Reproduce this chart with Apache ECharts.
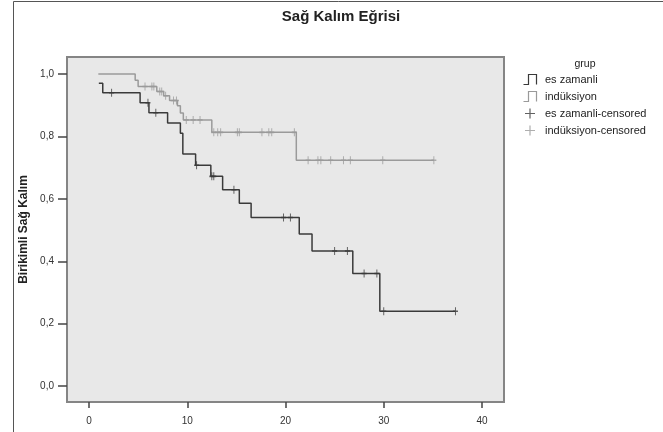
<!DOCTYPE html>
<html>
<head>
<meta charset="utf-8">
<script src="https://cdn.jsdelivr.net/npm/echarts@6.0.0/dist/echarts.min.js"></script>
<style>html,body{margin:0;padding:0;background:#fff;}#c{width:663px;height:432px;}</style>
</head>
<body>
<div id="c"></div>
<script>
// Kaplan-Meier step data (time, survival after event)
const darkTimes = [1.0, 1.4, 5.2, 6.1, 8.0, 9.3, 9.55, 10.85, 12.4, 13.6, 15.3, 16.5, 21.4, 22.7, 26.85, 29.6, 37.3];
const darkSurv  = [0.970, 0.940, 0.908, 0.876, 0.843, 0.810, 0.744, 0.708, 0.672, 0.629, 0.586, 0.540, 0.487, 0.433, 0.361, 0.240, 0.240];
const darkCens  = [2.3, 6.0, 6.8, 10.95, 12.5, 12.7, 14.75, 19.8, 20.5, 25.0, 26.3, 28.0, 29.3, 30.0, 37.3];

const grayTimes = [0.95, 4.7, 5.0, 6.9, 7.6, 8.2, 9.0, 9.3, 9.6, 12.5, 21.1, 35.1];
const graySurv  = [1.0, 0.980, 0.960, 0.944, 0.930, 0.915, 0.898, 0.875, 0.853, 0.813, 0.724, 0.724];
const grayCens  = [5.7, 6.4, 6.6, 7.2, 7.4, 7.8, 8.6, 8.9, 9.9, 10.6, 11.3, 12.7, 13.1, 13.4, 15.1, 15.3, 17.6, 18.3, 18.6, 20.9, 22.3, 23.3, 23.6, 24.6, 25.9, 26.6, 29.9, 35.1];

const xTicks = [0, 10, 20, 30, 40];
const yTicks = [0, 0.2, 0.4, 0.6, 0.8, 1.0];
const seriesNames = ['es zamanli', 'indüksiyon', 'es zamanli-censored', 'indüksiyon-censored'];

function levelAt(times, vals, t) {
  let v = vals[0];
  for (let i = 0; i < times.length; i++) { if (times[i] <= t) v = vals[i]; }
  return v;
}
const pairs = (ts, vs) => ts.map((t, i) => [t, vs[i]]);
const censPts = (cs, ts, vs) => cs.map(c => [c, levelAt(ts, vs, c)]);

const DARK = '#3a3a3a', GRAY = '#9a9a9a';
const stepIcon = 'path://M0,10L5,10L5,0L13,0L13,10';
const plusIcon = 'path://M0,5L10,5M5,0L5,10';
const FONT = 'Liberation Sans, Arial, sans-serif';

const chart = echarts.init(document.getElementById('c'), null, {renderer: 'canvas'});
chart.setOption({
  animation: false,
  backgroundColor: '#fff',
  title: [
    {text: 'Sağ Kalım Eğrisi', left: 336, top: 4, textAlign: 'center',
     textStyle: {fontFamily: FONT, fontSize: 15, fontWeight: 'bold', color: '#222'}},
    {text: 'grup', left: 580, top: 54, textAlign: 'center',
     textStyle: {fontFamily: FONT, fontSize: 10.5, fontWeight: 'normal', color: '#222'}}
  ],
  graphic: [
    {type: 'rect', shape: {x: 13.5, y: 1.5, width: 700, height: 500}, silent: true,
     style: {fill: 'none', stroke: '#555', lineWidth: 1}}
  ],
  legend: {
    orient: 'vertical', left: 516, top: 67, itemWidth: 20, itemHeight: 10, itemGap: 2,
    selectedMode: false,
    textStyle: {fontFamily: FONT, fontSize: 11, color: '#222'},
    data: [
      {name: seriesNames[0], icon: stepIcon, itemStyle: {color: 'none', borderColor: DARK, borderWidth: 1.2}},
      {name: seriesNames[1], icon: stepIcon, itemStyle: {color: 'none', borderColor: GRAY, borderWidth: 1.2}},
      {name: seriesNames[2], icon: plusIcon, itemStyle: {color: 'none', borderColor: DARK, borderWidth: 1.2}},
      {name: seriesNames[3], icon: plusIcon, itemStyle: {color: 'none', borderColor: GRAY, borderWidth: 1.2}}
    ]
  },
  grid: {left: 67, top: 57, width: 437, height: 345, show: true,
         backgroundColor: '#e8e8e8', borderColor: '#858585', borderWidth: 2},
  xAxis: {
    type: 'value', min: -2.24, max: 42.24,
    axisLine: {show: false, onZero: false}, splitLine: {show: false},
    axisTick: {show: true, customValues: xTicks, length: 6, lineStyle: {color: '#444', width: 1.5}},
    axisLabel: {customValues: xTicks, margin: 14, fontFamily: FONT, fontSize: 10, color: '#333',
                formatter: v => String(v)}
  },
  yAxis: {
    type: 'value', min: -0.051, max: 1.0545,
    name: 'Birikimli Sağ Kalım', nameLocation: 'middle', nameGap: 36, nameRotate: 90,
    nameTextStyle: {fontFamily: FONT, fontSize: 12, fontWeight: 'bold', color: '#222'},
    axisLine: {show: false, onZero: false}, splitLine: {show: false},
    axisTick: {show: true, customValues: yTicks, length: 9, lineStyle: {color: '#444', width: 1.5}},
    axisLabel: {customValues: yTicks, margin: 13, fontFamily: FONT, fontSize: 10, color: '#333',
                formatter: v => v.toFixed(1).replace('.', ',')}
  },
  series: [
    {name: seriesNames[0], type: 'line', step: 'end', data: pairs(darkTimes, darkSurv),
     symbol: 'none', lineStyle: {color: DARK, width: 1.5}, itemStyle: {color: DARK}, z: 4},
    {name: seriesNames[1], type: 'line', step: 'end', data: pairs(grayTimes, graySurv),
     symbol: 'none', lineStyle: {color: GRAY, width: 1.5}, itemStyle: {color: GRAY}, z: 3},
    {name: seriesNames[2], type: 'scatter', data: censPts(darkCens, darkTimes, darkSurv),
     symbol: plusIcon, symbolSize: [5, 8],
     itemStyle: {color: 'none', borderColor: DARK, borderWidth: 1.2}, z: 6},
    {name: seriesNames[3], type: 'scatter', data: censPts(grayCens, grayTimes, graySurv),
     symbol: plusIcon, symbolSize: [5, 8],
     itemStyle: {color: 'none', borderColor: GRAY, borderWidth: 1.2}, z: 5}
  ]
});
</script>
</body>
</html>
